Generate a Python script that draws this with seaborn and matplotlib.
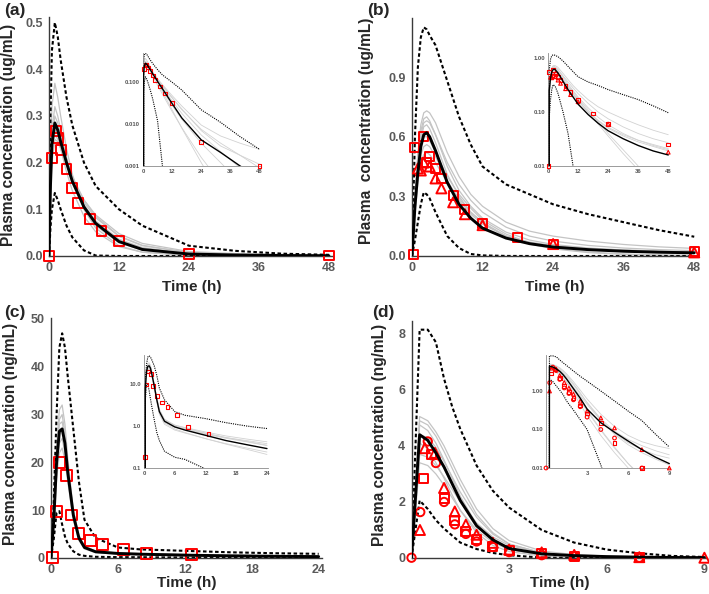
import numpy as np
import pandas as pd
import seaborn as sns
import matplotlib.pyplot as plt

sns.set_style("white")
plt.rcParams['font.family'] = ['Liberation Sans', 'DejaVu Sans']

# ---------------- panel (a) ----------------
time_a = [0, 0.25, 0.5, 1, 1.5, 2, 3, 4, 6, 8, 12, 16, 24, 32, 40, 48]
median_a = [0, 0.15, 0.24, 0.285, 0.27, 0.245, 0.2, 0.16, 0.105, 0.07, 0.031, 0.014, 0.0042, 0.0021, 0.001, 0.0005]
upper_a = [0, 0.3, 0.44, 0.5, 0.47, 0.42, 0.34, 0.28, 0.2, 0.15, 0.1, 0.065, 0.022, 0.011, 0.005, 0.0025]
lower_a = [0, 0.06, 0.1, 0.135, 0.12, 0.1, 0.065, 0.04, 0.012, 0.001, 0.00003, 1e-6, 1e-7, 1e-7, 1e-7, 1e-7]
gray_a = [
    [0, 0.2, 0.32, 0.37, 0.34, 0.3, 0.23, 0.175, 0.1, 0.06, 0.022, 0.008, 0.0012, 0.0002, 0.00004, 0.00001],
    [0, 0.17, 0.27, 0.32, 0.30, 0.27, 0.21, 0.165, 0.1, 0.065, 0.028, 0.013, 0.0035, 0.0012, 0.0004, 0.00015],
    [0, 0.16, 0.25, 0.30, 0.285, 0.26, 0.21, 0.17, 0.11, 0.075, 0.036, 0.018, 0.0055, 0.0022, 0.0009, 0.0004],
    [0, 0.14, 0.22, 0.27, 0.26, 0.24, 0.2, 0.165, 0.115, 0.082, 0.042, 0.022, 0.0075, 0.0035, 0.0018, 0.0009],
    [0, 0.13, 0.2, 0.25, 0.245, 0.23, 0.195, 0.165, 0.12, 0.088, 0.048, 0.027, 0.0095, 0.0052, 0.0035, 0.0025],
    [0, 0.15, 0.23, 0.28, 0.26, 0.23, 0.18, 0.14, 0.085, 0.052, 0.02, 0.0082, 0.0016, 0.0004, 0.0001, 0.00003],
    [0, 0.14, 0.21, 0.26, 0.25, 0.235, 0.2, 0.17, 0.12, 0.085, 0.043, 0.023, 0.007, 0.003, 0.0018, 0.0011],
]
obs_a_sq_t = [0, 0.5, 1.25, 1.5, 2, 3, 4, 5, 7, 9, 12, 24, 48]
obs_a_sq_c = [0, 0.21, 0.268, 0.252, 0.227, 0.186, 0.145, 0.114, 0.079, 0.054, 0.032, 0.0037, 0.001]

# ---------------- panel (b) ----------------
time_b = [0, 0.5, 1, 1.5, 2, 2.5, 3, 4, 6, 8, 10, 12, 16, 20, 24, 30, 36, 42, 48]
median_b = [0, 0.25, 0.42, 0.55, 0.61, 0.62, 0.6, 0.53, 0.37, 0.26, 0.19, 0.14, 0.09, 0.062, 0.045, 0.032, 0.024, 0.019, 0.016]
upper_b = [0, 0.6, 0.95, 1.1, 1.15, 1.14, 1.11, 1.06, 0.88, 0.7, 0.56, 0.45, 0.36, 0.31, 0.26, 0.21, 0.17, 0.13, 0.097]
lower_b = [0, 0.08, 0.17, 0.26, 0.32, 0.31, 0.29, 0.22, 0.1, 0.04, 0.01, 0.003, 0.0003, 1e-5, 1e-6, 1e-6, 1e-6, 1e-6, 1e-6]
gray_b = [
    [0, 0.3, 0.52, 0.66, 0.72, 0.73, 0.72, 0.67, 0.52, 0.4, 0.31, 0.25, 0.17, 0.125, 0.1, 0.075, 0.058, 0.046, 0.038],
    [0, 0.28, 0.5, 0.63, 0.69, 0.7, 0.68, 0.61, 0.45, 0.33, 0.25, 0.19, 0.12, 0.08, 0.058, 0.04, 0.03, 0.024, 0.02],
    [0, 0.26, 0.46, 0.59, 0.65, 0.66, 0.64, 0.57, 0.41, 0.3, 0.22, 0.165, 0.1, 0.068, 0.05, 0.036, 0.028, 0.023, 0.019],
    [0, 0.24, 0.43, 0.55, 0.6, 0.6, 0.58, 0.52, 0.4, 0.31, 0.24, 0.18, 0.11, 0.066, 0.04, 0.02, 0.01, 0.005, 0.0025],
    [0, 0.2, 0.37, 0.47, 0.51, 0.52, 0.51, 0.47, 0.37, 0.29, 0.22, 0.17, 0.1, 0.06, 0.036, 0.017, 0.0085, 0.0042, 0.002],
    [0, 0.22, 0.4, 0.51, 0.55, 0.56, 0.55, 0.5, 0.38, 0.28, 0.21, 0.16, 0.1, 0.07, 0.052, 0.038, 0.03, 0.025, 0.021],
    [0, 0.27, 0.48, 0.61, 0.67, 0.68, 0.67, 0.61, 0.47, 0.36, 0.28, 0.22, 0.145, 0.1, 0.075, 0.053, 0.04, 0.032, 0.027],
]
obs_b_sq_t = [0.25, 0.5, 2, 2.5, 3, 4, 5, 7, 9, 12, 18, 24, 48]
obs_b_sq_c = [0.01, 0.545, 0.6, 0.47, 0.5, 0.44, 0.39, 0.305, 0.235, 0.165, 0.094, 0.06, 0.025]
obs_b_tri_t = [1, 1.5, 2, 3, 4, 5, 7, 9, 12, 24, 48]
obs_b_tri_c = [0.44, 0.43, 0.47, 0.45, 0.39, 0.34, 0.27, 0.21, 0.155, 0.06, 0.018]

# ---------------- panel (c) ----------------
time_c = [0, 0.25, 0.5, 0.75, 1, 1.25, 1.5, 2, 2.5, 3, 4, 6, 8, 12, 16, 20, 24]
median_c = [0, 8, 20, 26.5, 27, 24, 18, 9, 4.2, 2.2, 1.3, 0.95, 0.8, 0.6, 0.45, 0.36, 0.29]
upper_c = [0, 12, 30, 44, 47, 44, 38, 27, 16, 8, 4.2, 2.2, 1.8, 1.5, 1.2, 1.0, 0.87]
lower_c = [0, 4, 9.5, 9.8, 7, 4.5, 3, 1.4, 0.7, 0.45, 0.25, 0.18, 0.16, 0.095, 0.06, 0.04, 0.025]
gray_c = [
    [0, 9, 23, 31, 32, 28, 21, 10, 4.8, 2.5, 1.45, 1.05, 0.9, 0.68, 0.53, 0.43, 0.35],
    [0, 8.5, 22, 29, 30, 26, 19.5, 9.5, 4.4, 2.3, 1.35, 1.0, 0.85, 0.66, 0.53, 0.45, 0.38],
    [0, 8, 21, 28, 28.5, 25, 19, 9.2, 4.3, 2.2, 1.2, 0.85, 0.7, 0.5, 0.37, 0.28, 0.21],
    [0, 7, 18, 24, 25, 22, 17, 8.5, 4, 2.1, 1.25, 0.95, 0.82, 0.64, 0.51, 0.42, 0.34],
    [0, 6.5, 16.5, 22, 23, 20.5, 16, 8, 3.7, 1.9, 1.1, 0.8, 0.68, 0.5, 0.38, 0.3, 0.24],
    [0, 7.5, 19.5, 26, 27, 24, 18.5, 9.5, 4.5, 2.4, 1.4, 1.05, 0.92, 0.72, 0.58, 0.49, 0.42],
]
obs_c_sq_t = [0.15, 0.5, 0.75, 1.4, 1.8, 2.5, 3.5, 4.6, 6.5, 8.6, 12.6]
obs_c_sq_c = [0.18, 9.8, 20, 17.3, 9, 5.2, 3.6, 2.8, 1.8, 0.95, 0.65]

# ---------------- panel (d) ----------------
time_d = [0, 0.25, 0.5, 0.75, 1, 1.25, 1.5, 2, 2.5, 3, 4, 5, 6, 7, 8, 9]
median_d = [0, 4.4, 4.2, 3.75, 3.25, 2.65, 2.05, 1.15, 0.65, 0.34, 0.15, 0.085, 0.05, 0.03, 0.019, 0.013]
upper_d = [0, 8.15, 8.15, 7.7, 6.4, 5.4, 4.6, 3.3, 2.4, 1.8, 1.0, 0.55, 0.3, 0.17, 0.075, 0.035]
lower_d = [0, 2.05, 1.75, 1.35, 1.05, 0.8, 0.55, 0.32, 0.18, 0.1, 0.012, 0.001, 1e-4, 1e-5, 1e-6, 1e-6]
gray_d = [
    [0, 5.05, 4.9, 4.5, 4.0, 3.4, 2.8, 1.75, 1.05, 0.62, 0.25, 0.12, 0.07, 0.048, 0.038, 0.032],
    [0, 4.9, 4.75, 4.35, 3.8, 3.2, 2.6, 1.55, 0.9, 0.5, 0.18, 0.08, 0.045, 0.03, 0.022, 0.018],
    [0, 4.75, 4.55, 4.1, 3.5, 2.85, 2.2, 1.2, 0.62, 0.32, 0.1, 0.035, 0.013, 0.006, 0.003, 0.0015],
    [0, 4.4, 4.3, 3.95, 3.45, 2.9, 2.35, 1.45, 0.85, 0.5, 0.19, 0.09, 0.055, 0.038, 0.028, 0.022],
    [0, 4.1, 3.9, 3.4, 2.85, 2.25, 1.7, 0.9, 0.45, 0.23, 0.07, 0.025, 0.01, 0.004, 0.0018, 0.0008],
    [0, 3.7, 3.6, 3.3, 2.9, 2.45, 2.0, 1.25, 0.75, 0.45, 0.17, 0.075, 0.04, 0.025, 0.017, 0.012],
    [0, 3.4, 3.3, 3.0, 2.6, 2.15, 1.7, 1.0, 0.56, 0.3, 0.095, 0.033, 0.013, 0.0055, 0.0028, 0.0015],
]
obs_d_circ_t = [0, 0.27, 0.5, 0.75, 1, 1.33, 1.67, 2, 2.5, 3, 4, 5, 7]
obs_d_circ_c = [0.01, 1.64, 4.16, 3.39, 2.0, 1.2, 0.86, 0.59, 0.39, 0.21, 0.1, 0.06, 0.01]
obs_d_sq_t = [0.36, 0.62, 1, 1.33, 1.67, 2, 2.5, 3, 4, 5, 7]
obs_d_sq_c = [2.85, 3.69, 2.14, 1.33, 0.95, 0.65, 0.42, 0.26, 0.15, 0.045, 0.01]
obs_d_tri_t = [0.26, 0.41, 0.72, 1, 1.33, 1.67, 2, 2.5, 3, 4, 5, 7, 9]
obs_d_tri_c = [1.0, 3.92, 3.75, 2.5, 1.66, 1.19, 0.83, 0.54, 0.3, 0.2, 0.11, 0.03, 0.01]

# tick labels
xticks_a, xticklabels_a = [0, 12, 24, 36, 48], ['0', '12', '24', '36', '48']
yticks_a, yticklabels_a = [0, 0.1, 0.2, 0.3, 0.4, 0.5], ['0.0', '0.1', '0.2', '0.3', '0.4', '0.5']
yticks_b, yticklabels_b = [0, 0.3, 0.6, 0.9], ['0.0', '0.3', '0.6', '0.9']
xticks_c, xticklabels_c = [0, 6, 12, 18, 24], ['0', '6', '12', '18', '24']
yticks_c, yticklabels_c = [0, 10, 20, 30, 40, 50], ['0', '10', '20', '30', '40', '50']
xticks_d, xticklabels_d = [3, 6, 9], ['3', '6', '9']
yticks_d, yticklabels_d = [0, 2, 4, 6, 8], ['0', '2', '4', '6', '8']
in_yticks_a, in_yticklabels_a = [0.001, 0.01, 0.1], ['0.001', '0.010', '0.100']
in_yticks_b, in_yticklabels_b = [0.01, 0.1, 1.0], ['0.01', '0.10', '1.00']
in_yticks_c, in_yticklabels_c = [0.1, 1.0, 10.0], ['0.1', '1.0', '10.0']
in_yticks_d, in_yticklabels_d = [0.01, 0.1, 1.0], ['0.01', '0.10', '1.00']

W, H = 709, 594
fig = plt.figure(figsize=(W / 100, H / 100), dpi=100)


def px_axes(left, top, right, bottom):
    return fig.add_axes([left / W, 1 - bottom / H, (right - left) / W, (bottom - top) / H])


def draw_curves(ax, t, med, up, lo, grays, inset):
    g_lw, m_lw, d_lw = (0.6, 1.0, 0.8) if inset else (0.9, 2.1, 1.5)
    dash = (0, (1, 1)) if inset else (0, (1.7, 1.2))
    gcol = '#d2d2d2' if inset else '#c4c4c4'
    for g in grays:
        sns.lineplot(x=t, y=g, ax=ax, color=gcol, lw=g_lw, estimator=None, zorder=1)
    sns.lineplot(x=t, y=up, ax=ax, color='black', lw=d_lw, linestyle=dash, estimator=None, zorder=2)
    sns.lineplot(x=t, y=lo, ax=ax, color='black', lw=d_lw, linestyle=dash, estimator=None, zorder=2)
    sns.lineplot(x=t, y=med, ax=ax, color='black', lw=m_lw, estimator=None, zorder=4)


def draw_obs(ax, obs, inset):
    for t, c, marker, size in obs:
        s = 7 if inset else size
        lw = 0.8 if inset else 1.4
        sns.scatterplot(x=t, y=c, ax=ax, marker=marker, s=s, fc='none', ec='red',
                        linewidth=lw, clip_on=False, zorder=3)


def style_main(ax, xlim, ylim, xt, xtl, yt, ytl, ylabel, ylab_xy, xlab_xy, letter, letter_xy):
    ax.set_xlim(*xlim)
    ax.set_ylim(*ylim)
    ax.set_xticks(xt)
    ax.set_xticklabels(xtl, fontweight='bold', fontsize=9, color='#5a5a5a')
    ax.set_yticks(yt)
    ax.set_yticklabels(ytl, fontweight='bold', fontsize=9, color='#5a5a5a')
    ax.tick_params(axis='x', length=0, pad=4)
    ax.tick_params(axis='y', length=0, pad=4.5)
    for s in ['top', 'right']:
        ax.spines[s].set_visible(False)
    for s in ['left', 'bottom']:
        ax.spines[s].set_color('#3a3a3a')
        ax.spines[s].set_linewidth(1.0)
    ax.set_ylabel(ylabel, fontsize=11.2, fontweight='bold')
    ax.set_xlabel('Time (h)', fontsize=11, fontweight='bold')
    ax.yaxis.set_label_coords(*ylab_xy)
    ax.xaxis.set_label_coords(*xlab_xy)
    fig.text(letter_xy[0] / W, 1 - letter_xy[1] / H, letter, fontsize=12.5,
             fontweight='bold', va='center', ha='left')


def style_inset(ax, xlim, ylim, xt, xtl, yt, ytl):
    ax.set_yscale('log')
    ax.set_xlim(*xlim)
    ax.set_ylim(*ylim)
    ax.set_xticks(xt)
    ax.set_xticklabels(xtl, fontsize=4.2, fontweight='bold', color='#555555')
    ax.set_yticks(yt)
    ax.set_yticklabels(ytl, fontsize=4.2, fontweight='bold', color='#555555')
    ax.minorticks_off()
    ax.tick_params(length=1.2, width=0.5, pad=1, color='#888888')
    ax.patch.set_alpha(0)
    for s in ['top', 'right']:
        ax.spines[s].set_visible(False)
    for s in ['left', 'bottom']:
        ax.spines[s].set_color('#8a8a8a')
        ax.spines[s].set_linewidth(0.6)


panels = [
    dict(main=(49, 17, 333, 256), inset=(143, 53, 261, 166),
         t=time_a, med=median_a, up=upper_a, lo=lower_a, grays=gray_a,
         obs=[(obs_a_sq_t, obs_a_sq_c, 's', 50)],
         xlim=(0, 48.7), ylim=(0, 0.512), xt=xticks_a, xtl=xticklabels_a,
         yt=yticks_a, ytl=yticklabels_a, ylabel='Plasma concentration (ug/mL)',
         ylab=(-0.116, 0.505), xlab=(0.503, -0.1), letter='(a)', letter_xy=(4, 11),
         in_xlim=(0, 48.6), in_ylim=(0.001, 0.5), in_xt=xticks_a, in_xtl=xticklabels_a,
         in_yt=in_yticks_a, in_ytl=in_yticklabels_a),
    dict(main=(412, 18, 696, 256), inset=(548, 53, 669, 166),
         t=time_b, med=median_b, up=upper_b, lo=lower_b, grays=gray_b,
         obs=[(obs_b_sq_t, obs_b_sq_c, 's', 42), (obs_b_tri_t, obs_b_tri_c, '^', 52)],
         xlim=(0, 48.3), ylim=(0, 1.197), xt=xticks_a, xtl=xticklabels_a,
         yt=yticks_b, ytl=yticklabels_b, ylabel='Plasma  concentration (ug/mL)',
         ylab=(-0.134, 0.525), xlab=(0.503, -0.1), letter='(b)', letter_xy=(367, 11),
         in_xlim=(0, 48.3), in_ylim=(0.01, 1.24), in_xt=xticks_a, in_xtl=xticklabels_a,
         in_yt=in_yticks_b, in_ytl=in_yticklabels_b),
    dict(main=(51, 318, 322, 558), inset=(144, 355, 268, 468),
         t=time_c, med=median_c, up=upper_c, lo=lower_c, grays=gray_c,
         obs=[(obs_c_sq_t, obs_c_sq_c, 's', 62)],
         xlim=(0, 24.3), ylim=(0, 50.2), xt=xticks_c, xtl=xticklabels_c,
         yt=yticks_c, ytl=yticklabels_c, ylabel='Plasma concentration (ng/mL)',
         ylab=(-0.122, 0.517), xlab=(0.5, -0.075), letter='(c)', letter_xy=(4, 313),
         in_xlim=(0, 24.2), in_ylim=(0.1, 49), in_xt=xticks_c, in_xtl=xticklabels_c,
         in_yt=in_yticks_c, in_ytl=in_yticklabels_c),
    dict(main=(411.5, 321, 707, 558), inset=(546, 355, 670, 468),
         t=time_d, med=median_d, up=upper_d, lo=lower_d, grays=gray_d,
         obs=[(obs_d_circ_t, obs_d_circ_c, 'o', 36), (obs_d_sq_t, obs_d_sq_c, 's', 42),
              (obs_d_tri_t, obs_d_tri_c, '^', 52)],
         xlim=(0, 9.08), ylim=(0, 8.46), xt=xticks_d, xtl=xticklabels_d,
         yt=yticks_d, ytl=yticklabels_d, ylabel='Plasma concentration (ng/mL)',
         ylab=(-0.083, 0.52), xlab=(0.503, -0.075), letter='(d)', letter_xy=(372, 312),
         in_xlim=(0, 9.05), in_ylim=(0.01, 8.6), in_xt=xticks_d, in_xtl=xticklabels_d,
         in_yt=in_yticks_d, in_ytl=in_yticklabels_d),
]

for p in panels:
    ax = px_axes(*p['main'])
    draw_curves(ax, p['t'], p['med'], p['up'], p['lo'], p['grays'], inset=False)
    draw_obs(ax, p['obs'], inset=False)
    style_main(ax, p['xlim'], p['ylim'], p['xt'], p['xtl'], p['yt'], p['ytl'],
               p['ylabel'], p['ylab'], p['xlab'], p['letter'], p['letter_xy'])

    axi = px_axes(*p['inset'])
    draw_curves(axi, p['t'], p['med'], p['up'], p['lo'], p['grays'], inset=True)
    draw_obs(axi, p['obs'], inset=True)
    style_inset(axi, p['in_xlim'], p['in_ylim'], p['in_xt'], p['in_xtl'],
                p['in_yt'], p['in_ytl'])

fig.savefig('out.png', dpi=100)
